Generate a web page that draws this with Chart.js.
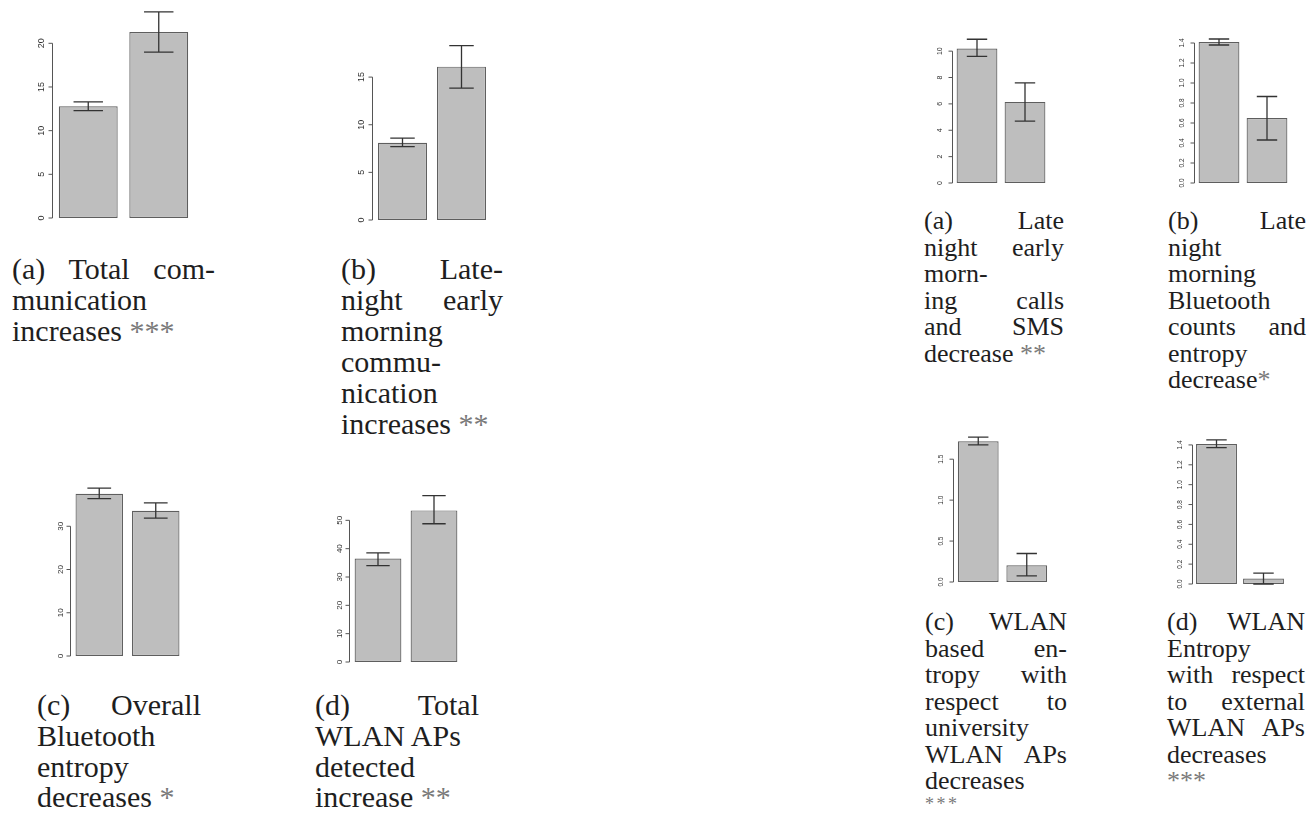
<!DOCTYPE html>
<html>
<head>
<meta charset="utf-8">
<script src="https://cdn.jsdelivr.net/npm/chart.js@4/dist/chart.umd.min.js"></script>
<style>
  html, body { margin: 0; padding: 0; background: #ffffff; }
  body { width: 1314px; height: 814px; position: relative; overflow: hidden; }
  canvas { position: absolute; }
  .cap { position: absolute; font-family: 'Liberation Serif', 'Times New Roman', serif; color: #1e1e1e; }
  .cap div { white-space: nowrap; }
  .cap div.j { text-align: justify; text-align-last: justify; }
  .cap div.last { font-size: 18px; line-height: 18px; letter-spacing: 2.5px; }
  .cap .ast { color: #7a7a7a; }
</style>
</head>
<body>
<script>
// ---------- DATA ----------
const groups = ['Group 1', 'Group 2'];

// Left column (communication, Bluetooth, WLAN)
const totalCommMean = [12.8, 21.3];
const totalCommLow  = [12.3, 19.0];
const totalCommHigh = [13.3, 23.6];
const totalCommTicks = [0, 5, 10, 15, 20];
const totalCommTickLabels = ['0', '5', '10', '15', '20'];

const lateCommMean = [8.1, 16.1];
const lateCommLow  = [7.7, 13.85];
const lateCommHigh = [8.6, 18.3];
const lateCommTicks = [0, 5, 10, 15];
const lateCommTickLabels = ['0', '5', '10', '15'];

const btEntropyMean = [37.5, 33.6];
const btEntropyLow  = [36.4, 31.9];
const btEntropyHigh = [38.8, 35.4];
const btEntropyTicks = [0, 10, 20, 30];
const btEntropyTickLabels = ['0', '10', '20', '30'];

const wlanApsMean = [36.5, 53.5];
const wlanApsLow  = [34.0, 48.8];
const wlanApsHigh = [38.5, 58.7];
const wlanApsTicks = [0, 10, 20, 30, 40, 50];
const wlanApsTickLabels = ['0', '10', '20', '30', '40', '50'];

// Right column
const lateCallsMean = [10.2, 6.15];
const lateCallsLow  = [9.6, 4.7];
const lateCallsHigh = [10.9, 7.6];
const lateCallsTicks = [0, 2, 4, 6, 8, 10];
const lateCallsTickLabels = ['0', '2', '4', '6', '8', '10'];

const lateBtMean = [1.41, 0.65];
const lateBtLow  = [1.38, 0.43];
const lateBtHigh = [1.44, 0.865];
const lateBtTicks = [0, 0.2, 0.4, 0.6, 0.8, 1.0, 1.2, 1.4];
const lateBtTickLabels = ['0.0', '0.2', '0.4', '0.6', '0.8', '1.0', '1.2', '1.4'];

const uniWlanMean = [1.72, 0.205];
const uniWlanLow  = [1.675, 0.074];
const uniWlanHigh = [1.77, 0.348];
const uniWlanTicks = [0, 0.5, 1.0, 1.5];
const uniWlanTickLabels = ['0.0', '0.5', '1.0', '1.5'];

const extWlanMean = [1.41, 0.056];
const extWlanLow  = [1.373, 0.0];
const extWlanHigh = [1.45, 0.11];
const extWlanTicks = [0, 0.2, 0.4, 0.6, 0.8, 1.0, 1.2, 1.4];
const extWlanTickLabels = ['0.0', '0.2', '0.4', '0.6', '0.8', '1.0', '1.2', '1.4'];

// Captions: [line text, justified?]
const capTotalComm = [['(a) Total com-', 1], ['munication', 0], ['increases ***', 0]];
const capLateComm = [['(b) Late-', 1], ['night early', 1], ['morning', 0], ['commu-', 0], ['nication', 0], ['increases **', 0]];
const capBtEntropy = [['(c) Overall', 1], ['Bluetooth', 0], ['entropy', 0], ['decreases *', 0]];
const capWlanAps = [['(d) Total', 1], ['WLAN APs', 0], ['detected', 0], ['increase **', 0]];
const capLateCalls = [['(a) Late', 1], ['night early', 1], ['morn-', 0], ['ing calls', 1], ['and SMS', 1], ['decrease **', 0]];
const capLateBt = [['(b) Late', 1], ['night', 0], ['morning', 0], ['Bluetooth', 0], ['counts and', 1], ['entropy', 0], ['decrease*', 0]];
const capUniWlan = [['(c) WLAN', 1], ['based en-', 1], ['tropy with', 1], ['respect to', 1], ['university', 0], ['WLAN APs', 1], ['decreases', 0], ['***', 0]];
const capExtWlan = [['(d) WLAN', 1], ['Entropy', 0], ['with respect', 1], ['to external', 1], ['WLAN APs', 1], ['decreases', 0], ['***', 0]];

// ---------- LAYOUT (positions/styles only) ----------
const PAD_L = 30, PAD_R = 4, PAD_T = 8, PAD_B = 10;
const panels = [
  { mean: totalCommMean, low: totalCommLow, high: totalCommHigh, ticks: totalCommTicks, labels: totalCommTickLabels,
    left: 53, width: 141, zeroY: 218, ppu: 8.75, yMax: 24.5, font: 9, labOff: 11, barPct: 0.835 },
  { mean: lateCommMean, low: lateCommLow, high: lateCommHigh, ticks: lateCommTicks, labels: lateCommTickLabels,
    left: 372.5, width: 118, zeroY: 220, ppu: 9.51, yMax: 19, font: 9, labOff: 11, barPct: 0.83 },
  { mean: btEntropyMean, low: btEntropyLow, high: btEntropyHigh, ticks: btEntropyTicks, labels: btEntropyTickLabels,
    left: 70.5, width: 113.4, zeroY: 656.7, ppu: 4.333, yMax: 40, font: 8, labOff: 10, barPct: 0.84 },
  { mean: wlanApsMean, low: wlanApsLow, high: wlanApsHigh, ticks: wlanApsTicks, labels: wlanApsTickLabels,
    left: 349.5, width: 112, zeroY: 662.3, ppu: 2.833, yMax: 60, font: 8, labOff: 10, barPct: 0.835 },
  { mean: lateCallsMean, low: lateCallsLow, high: lateCallsHigh, ticks: lateCallsTicks, labels: lateCallsTickLabels,
    left: 953, width: 96, zeroY: 182.3, ppu: 13.16, yMax: 11.3, font: 7, labOff: 12, barPct: 0.85 },
  { mean: lateBtMean, low: lateBtLow, high: lateBtHigh, ticks: lateBtTicks, labels: lateBtTickLabels,
    left: 1194.5, width: 96, zeroY: 182.7, ppu: 100, yMax: 1.48, font: 6.5, labOff: 12, barPct: 0.85 },
  { mean: uniWlanMean, low: uniWlanLow, high: uniWlanHigh, ticks: uniWlanTicks, labels: uniWlanTickLabels,
    left: 954, width: 97, zeroY: 581.7, ppu: 81.6, yMax: 1.82, font: 6.5, labOff: 12, barPct: 0.84 },
  { mean: extWlanMean, low: extWlanLow, high: extWlanHigh, ticks: extWlanTicks, labels: extWlanTickLabels,
    left: 1193, width: 94, zeroY: 584.3, ppu: 99.5, yMax: 1.5, font: 6.5, labOff: 12, barPct: 0.87 }
];

const captions = [
  { lines: capTotalComm, x: 12, y: 253, w: 203, size: 30, lh: 31 },
  { lines: capLateComm,  x: 341, y: 253, w: 162, size: 30, lh: 31 },
  { lines: capBtEntropy, x: 37, y: 690, w: 164, size: 30, lh: 30.8 },
  { lines: capWlanAps,   x: 315, y: 690, w: 164, size: 30, lh: 30.8 },
  { lines: capLateCalls, x: 924, y: 208, w: 140, size: 26, lh: 26.5 },
  { lines: capLateBt,    x: 1168, y: 208, w: 138, size: 26, lh: 26.5 },
  { lines: capUniWlan,   x: 925, y: 609, w: 142, size: 26, lh: 26.5, shortLast: true },
  { lines: capExtWlan,   x: 1167, y: 609, w: 138, size: 26, lh: 26.5 }
];

// ---------- PLUGINS ----------
const errorBarPlugin = {
  id: 'errorBars',
  afterDatasetsDraw(chart, args, opts) {
    const ctx = chart.ctx;
    const ys = chart.scales.y;
    const meta = chart.getDatasetMeta(0);
    ctx.save();
    ctx.strokeStyle = '#333333';
    ctx.lineWidth = 1.3;
    meta.data.forEach((bar, i) => {
      const x = bar.x;
      const half = bar.width * 0.25;
      const yLo = ys.getPixelForValue(opts.low[i]);
      const yHi = ys.getPixelForValue(opts.high[i]);
      ctx.beginPath();
      ctx.moveTo(x, yLo); ctx.lineTo(x, yHi);
      ctx.moveTo(x - half, yLo); ctx.lineTo(x + half, yLo);
      ctx.moveTo(x - half, yHi); ctx.lineTo(x + half, yHi);
      ctx.stroke();
    });
    ctx.restore();
  }
};

const rAxisPlugin = {
  id: 'rAxis',
  afterDraw(chart, args, opts) {
    const ctx = chart.ctx;
    const ys = chart.scales.y;
    const x0 = Math.round(chart.chartArea.left) - 0.5;
    const ticks = opts.ticks;
    const yFirst = ys.getPixelForValue(ticks[0]);
    const yLast = ys.getPixelForValue(ticks[ticks.length - 1]);
    ctx.save();
    ctx.strokeStyle = '#555555';
    ctx.lineWidth = 1;
    ctx.beginPath();
    ctx.moveTo(x0, yFirst); ctx.lineTo(x0, yLast);
    ticks.forEach(v => {
      const y = ys.getPixelForValue(v);
      ctx.moveTo(x0, y); ctx.lineTo(x0 - 4, y);
    });
    ctx.stroke();
    ctx.fillStyle = '#2e2e2e';
    ctx.font = opts.font + 'px "Liberation Sans", Arial, sans-serif';
    ctx.textAlign = 'center';
    ctx.textBaseline = 'middle';
    ticks.forEach((v, i) => {
      const y = ys.getPixelForValue(v);
      ctx.save();
      ctx.translate(x0 - opts.labOff, y);
      ctx.rotate(-Math.PI / 2);
      ctx.fillText(opts.labels[i], 0, 0);
      ctx.restore();
    });
    ctx.restore();
  }
};

// ---------- BUILD ----------
panels.forEach(p => {
  const plotH = p.yMax * p.ppu;
  const cv = document.createElement('canvas');
  const W = Math.round(PAD_L + p.width + PAD_R);
  const H = Math.round(PAD_T + plotH + PAD_B);
  cv.width = W; cv.height = H;
  cv.style.width = W + 'px'; cv.style.height = H + 'px';
  cv.style.left = (p.left - PAD_L) + 'px';
  cv.style.top = (p.zeroY - plotH - PAD_T) + 'px';
  document.body.appendChild(cv);
  new Chart(cv.getContext('2d'), {
    type: 'bar',
    data: {
      labels: groups,
      datasets: [{
        data: p.mean,
        backgroundColor: '#bebebe',
        borderColor: '#5e5e5e',
        borderWidth: 1.2,
        borderSkipped: false,
        barPercentage: p.barPct,
        categoryPercentage: 1.0
      }]
    },
    options: {
      responsive: false,
      animation: false,
      devicePixelRatio: 1,
      layout: { padding: { left: PAD_L, right: PAD_R, top: PAD_T, bottom: PAD_B } },
      plugins: {
        legend: { display: false },
        tooltip: { enabled: false },
        title: { display: false },
        errorBars: { low: p.low, high: p.high },
        rAxis: { ticks: p.ticks, labels: p.labels, font: p.font, labOff: p.labOff }
      },
      scales: {
        x: { display: false },
        y: { display: false, min: 0, max: p.yMax }
      }
    },
    plugins: [errorBarPlugin, rAxisPlugin]
  });
});

captions.forEach(c => {
  const d = document.createElement('div');
  d.className = 'cap';
  d.style.left = c.x + 'px';
  d.style.top = c.y + 'px';
  d.style.width = c.w + 'px';
  d.style.fontSize = c.size + 'px';
  d.style.lineHeight = c.lh + 'px';
  c.lines.forEach(([text, just], idx) => {
    const ln = document.createElement('div');
    if (just) ln.className = 'j';
    if (c.shortLast && idx === c.lines.length - 1) ln.classList.add('last');
    const m = text.match(/^(.*?)(\*+)$/);
    if (m) {
      ln.appendChild(document.createTextNode(m[1]));
      const s = document.createElement('span');
      s.className = 'ast';
      s.textContent = m[2];
      ln.appendChild(s);
    } else {
      ln.textContent = text;
    }
    d.appendChild(ln);
  });
  document.body.appendChild(d);
});
</script>
</body>
</html>
